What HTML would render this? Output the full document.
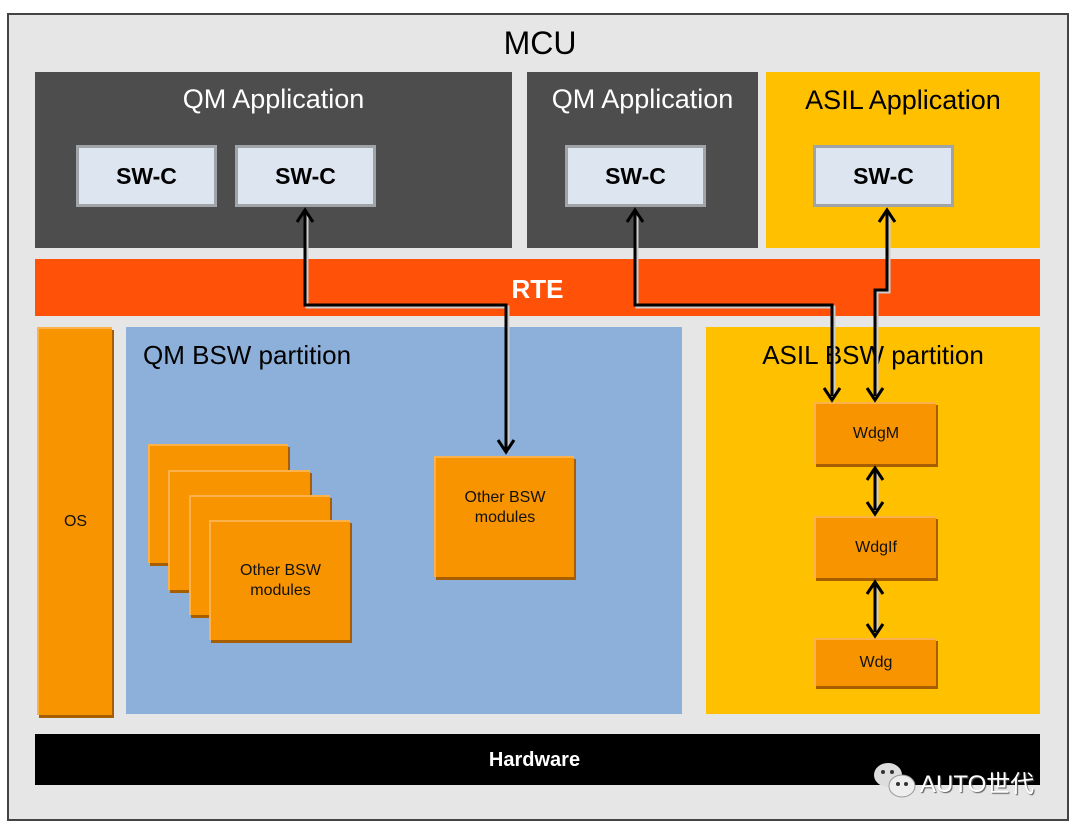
<!DOCTYPE html>
<html><head><meta charset="utf-8"><style>
body{margin:0;width:1080px;height:829px;background:#fff;position:relative;font-family:"Liberation Sans",Arial,sans-serif;overflow:hidden}
div{position:absolute;box-sizing:border-box}
.t{color:#fff;font-size:27px;text-align:center;width:100%}
.sw{background:#dde6f0;border:3px solid #a0a4a8;font-weight:bold;font-size:23px;display:flex;align-items:center;justify-content:center;color:#000}
.or{background:#f79400;border-top:2px solid #fbb24a;border-left:2px solid #fbb24a;box-shadow:2px 3px 0 #a65e00;display:flex;align-items:center;justify-content:center;text-align:center;font-size:16px;color:#111;line-height:20px}
</style></head><body>
<div style="left:7px;top:13px;width:1062px;height:808px;background:#e6e6e6;border:2px solid #444"></div>
<div style="left:0;top:25px;width:1080px;text-align:center;font-size:32px;color:#000">MCU</div>
<div style="left:35px;top:72px;width:477px;height:176px;background:#4d4d4d"><div class="t" style="top:12px">QM Application</div></div>
<div style="left:527px;top:72px;width:231px;height:176px;background:#4d4d4d"><div class="t" style="top:12px">QM Application</div></div>
<div style="left:766px;top:72px;width:274px;height:176px;background:#ffc000"><div class="t" style="top:13px;color:#000">ASIL Application</div></div>
<div class="sw" style="left:76px;top:145px;width:141px;height:62px">SW-C</div>
<div class="sw" style="left:235px;top:145px;width:141px;height:62px">SW-C</div>
<div class="sw" style="left:565px;top:145px;width:141px;height:62px">SW-C</div>
<div class="sw" style="left:813px;top:145px;width:141px;height:62px">SW-C</div>
<div style="left:35px;top:259px;width:1005px;height:57px;background:#ff5208;color:#fff;font-weight:bold;font-size:26px;text-align:center;line-height:60px">RTE</div>
<div class="or" style="left:37px;top:327px;width:75px;height:388px">OS</div>
<div style="left:126px;top:327px;width:556px;height:387px;background:#8cb0da"><div style="left:17px;top:13px;font-size:26px;color:#000">QM BSW partition</div></div>
<div style="left:706px;top:327px;width:334px;height:387px;background:#ffc000"><div class="t" style="top:13px;color:#000;font-size:26px">ASIL BSW partition</div></div>
<div class="or" style="left:148px;top:444px;width:140px;height:119px"></div>
<div class="or" style="left:168px;top:470px;width:142px;height:120px"></div>
<div class="or" style="left:189px;top:495px;width:141px;height:120px"></div>
<div class="or" style="left:209px;top:520px;width:141px;height:120px">Other BSW<br>modules</div>
<div class="or" style="left:434px;top:456px;width:140px;height:121px;padding-bottom:20px">Other BSW<br>modules</div>
<div class="or" style="left:814px;top:402px;width:122px;height:62px">WdgM</div>
<div class="or" style="left:814px;top:516px;width:122px;height:62px">WdgIf</div>
<div class="or" style="left:814px;top:638px;width:122px;height:48px">Wdg</div>
<div style="left:35px;top:734px;width:1005px;height:51px;background:#000;color:#fff;font-weight:bold;font-size:20px;text-align:center;line-height:53px;padding-right:6px">Hardware</div>
<div style="left:920px;top:764px;color:#fff;font-size:24px;font-family:'Liberation Sans','Noto Sans CJK SC',sans-serif;text-shadow:1px 1px 1px #555">AUTO世代</div>
<svg style="position:absolute;left:872px;top:760px" width="46" height="40"><ellipse cx="16" cy="15" rx="14" ry="12" fill="#ddd"/><ellipse cx="30" cy="26" rx="13" ry="11" fill="#eee" stroke="#999"/><circle cx="11" cy="12" r="2" fill="#333"/><circle cx="20" cy="12" r="2" fill="#333"/><circle cx="26" cy="24" r="2" fill="#333"/><circle cx="34" cy="24" r="2" fill="#333"/></svg>
<svg style="position:absolute;left:0;top:0" width="1080" height="829" fill="none" stroke="#000" stroke-width="3">
<g stroke="#ccc" transform="translate(2,2)"><path d="M305 212V305H506V450M635 212V305H832V396M887 212V290H875V396M875 470V510M875 584V632"/></g>
<path d="M305 212V305H506V450M635 212V305H832V396M887 212V290H875V396M875 470V510M875 584V632"/>
<path d="M297 222L305 210L313 222M498 440L506 452L514 440M627 222L635 210L643 222M824 388L832 400L840 388M879 222L887 210L895 222M867 388L875 400L883 388M867 480L875 468L883 480M867 502L875 514L883 502M867 594L875 582L883 594M867 624L875 636L883 624"/>
</svg>
</body></html>
